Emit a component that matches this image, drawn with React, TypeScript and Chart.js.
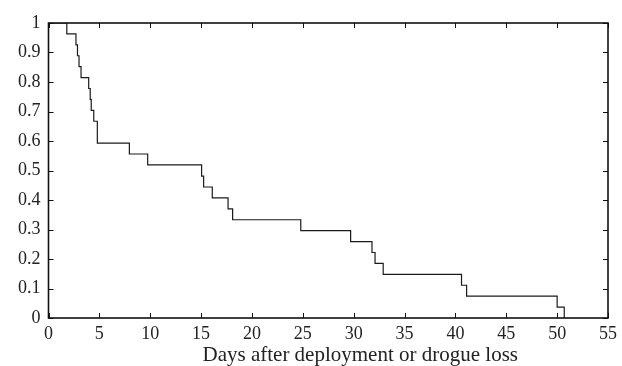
import React, { useEffect, useRef } from "react";
import { Chart, registerables } from "chart.js";

Chart.register(...registerables);

const days = [0, 1.8, 2.7, 2.85, 3.0, 3.2, 3.95, 4.1, 4.2, 4.45, 4.8, 7.95, 9.75, 15.05, 15.25, 16.1, 17.65, 18.1, 24.8, 29.7, 31.8, 32.1, 32.9, 40.6, 41.1, 50.0, 50.7];
const survival = [1, 0.963, 0.926, 0.889, 0.852, 0.815, 0.778, 0.741, 0.704, 0.667, 0.593, 0.556, 0.519, 0.481, 0.444, 0.407, 0.370, 0.333, 0.296, 0.259, 0.222, 0.185, 0.148, 0.111, 0.074, 0.037, 0];
const xTicks = [0, 5, 10, 15, 20, 25, 30, 35, 40, 45, 50, 55];
const yTicks = [0, 0.1, 0.2, 0.3, 0.4, 0.5, 0.6, 0.7, 0.8, 0.9, 1];
const xTitle = "Days after deployment or drogue loss";

const FONT = "'Liberation Serif', 'Times New Roman', serif";

const framePlugin = {
  id: "frameTicks",
  afterDatasetsDraw(chart: any) {
    const { ctx, chartArea: a, scales } = chart;
    const tl = 5;
    ctx.save();
    ctx.strokeStyle = "#111";
    ctx.lineWidth = 1;
    ctx.beginPath();
    xTicks.forEach((v) => {
      const px = Math.round(scales.x.getPixelForValue(v)) + 0.5;
      ctx.moveTo(px, a.bottom);
      ctx.lineTo(px, a.bottom - tl);
      ctx.moveTo(px, a.top);
      ctx.lineTo(px, a.top + tl);
    });
    yTicks.forEach((v) => {
      const py = Math.round(scales.y.getPixelForValue(v)) + 0.5;
      ctx.moveTo(a.left, py);
      ctx.lineTo(a.left + tl, py);
      ctx.moveTo(a.right, py);
      ctx.lineTo(a.right - tl, py);
    });
    ctx.stroke();
    ctx.lineWidth = 1.6;
    ctx.strokeRect(a.left, a.top, a.right - a.left, a.bottom - a.top);
    // axis title
    ctx.fillStyle = "#222";
    ctx.font = `21px ${FONT}`;
    ctx.textAlign = "center";
    ctx.textBaseline = "alphabetic";
    ctx.fillText(xTitle, (a.left + a.right) / 2 + 32, 361);
    ctx.restore();
  },
};

export default function App() {
  const ref = useRef<HTMLCanvasElement>(null);
  useEffect(() => {
    if (!ref.current) return;
    const chart = new Chart(ref.current, {
      type: "line",
      data: {
        datasets: [
          {
            data: days.map((d, i) => ({ x: d, y: survival[i] })),
            stepped: true,
            borderColor: "#1a1a1a",
            borderWidth: 1.2,
            pointRadius: 0,
            fill: false,
          },
        ],
      },
      options: {
        animation: false,
        responsive: false,
        layout: { padding: { left: 0, right: 12, top: 23, bottom: 0 } },
        plugins: { legend: { display: false }, tooltip: { enabled: false } },
        scales: {
          x: {
            type: "linear",
            min: 0,
            max: 55,
            afterBuildTicks: (s: any) => {
              s.ticks = xTicks.map((v) => ({ value: v }));
            },
            afterFit: (s: any) => {
              s.height = 48;
            },
            grid: { display: false, drawTicks: false },
            border: { display: false },
            ticks: {
              color: "#222",
              font: { family: FONT, size: 18 },
              padding: 5,
              maxRotation: 0,
              autoSkip: false,
            },
            title: { display: false },
          },
          y: {
            type: "linear",
            min: 0,
            max: 1,
            afterBuildTicks: (s: any) => {
              s.ticks = yTicks.map((v) => ({ value: v }));
            },
            afterFit: (s: any) => {
              s.width = 48.5;
            },
            grid: { display: false, drawTicks: false },
            border: { display: false },
            ticks: {
              color: "#222",
              font: { family: FONT, size: 18 },
              padding: 8,
              autoSkip: false,
              callback: (v: any) => String(Math.round(Number(v) * 10) / 10),
            },
          },
        },
      },
      plugins: [framePlugin],
    });
    return () => chart.destroy();
  }, []);
  return (
    <div style={{ position: "absolute", left: 0, top: 0, width: 622, height: 366, background: "#fff" }}>
      <canvas ref={ref} width={622} height={366} style={{ display: "block" }} />
    </div>
  );
}
